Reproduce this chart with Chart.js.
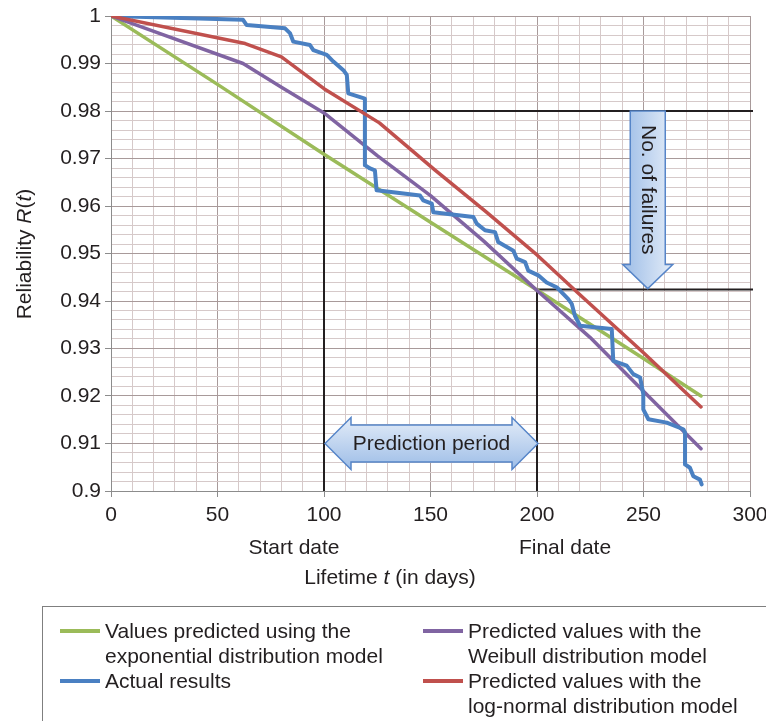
<!DOCTYPE html>
<html>
<head>
<meta charset="utf-8">
<script src="https://cdn.jsdelivr.net/npm/chart.js@4/dist/chart.umd.min.js"></script>
<style>
  html, body { margin: 0; padding: 0; background: #fff; }
  #wrap { position: relative; width: 766px; height: 721px; overflow: hidden; }
  canvas { display: block; position: absolute; left: 0; top: 0; }
  #legend { position: absolute; left: 42px; top: 606px; width: 760px; height: 140px;
            border: 1px solid #7f7f7f; box-sizing: border-box;
            font-family: "Liberation Sans", Arial, sans-serif; font-size: 21px; color: #231f20; }
  .item { position: absolute; line-height: 25px; }
  .item .sw { position: absolute; top: 11px; width: 40px; height: 4px; }
  .item .tx { position: absolute; left: 45px; white-space: nowrap; }
</style>
</head>
<body>
<div id="wrap">
  <canvas id="c" width="766" height="721"></canvas>
  <div id="legend"></div>
</div>
<script>
// ---------- data ----------
const expDays     = [0, 50, 100, 150, 200, 250, 277];
const expR        = [1, 0.9856, 0.9709, 0.9566, 0.9423, 0.9279, 0.9200];

const weibullDays = [0, 62, 80, 100, 125, 150, 175, 200, 225, 250, 277];
const weibullR    = [1, 0.9900, 0.9850, 0.9796, 0.9706, 0.9622, 0.9526, 0.9422, 0.9323, 0.9210, 0.9089];

const lognormDays = [0, 63, 80, 100, 126, 152, 176, 200, 219, 250, 277];
const lognormR    = [1, 0.9942, 0.9914, 0.9847, 0.9775, 0.9676, 0.9588, 0.9497, 0.9418, 0.9291, 0.9177];

const actualDays = [0, 62.0, 63.7, 81.7, 84.0, 85.6, 93.4, 95.0, 101.3, 104.4, 109.1, 110.7, 111.4, 119.2, 119.2,
  121.6, 123.9, 124.7, 145.1, 146.6, 150.6, 151.3, 170.1, 171.7, 175.6, 180.3, 181.8, 188.9, 190.5, 194.4,
  195.9, 200.6, 204.5, 209.2, 210.8, 214.7, 216.3, 217.8, 220.2, 235.1, 235.8, 242.1, 245.2, 248.4, 249.9,
  249.9, 252.3, 260.9, 268.7, 269.5, 269.5, 271.8, 273.4, 276.5, 277.3];
const actualR = [1.0, 0.9992, 0.9981, 0.9974, 0.9964, 0.9946, 0.9939, 0.9928, 0.9918, 0.9904, 0.9886, 0.9876, 0.9837, 0.9826, 0.9686,
  0.9679, 0.9675, 0.9633, 0.9622, 0.9612, 0.9605, 0.9587, 0.9577, 0.9563, 0.9549, 0.9545, 0.9524, 0.9506, 0.9489, 0.9482,
  0.9464, 0.9454, 0.9439, 0.9429, 0.9422, 0.9404, 0.9394, 0.9369, 0.9348, 0.9341, 0.9274, 0.9264, 0.9246, 0.9239, 0.9204,
  0.9172, 0.9151, 0.9144, 0.9130, 0.9123, 0.9056, 0.9049, 0.9031, 0.9024, 0.9014];

const xTickValues = [0, 50, 100, 150, 200, 250, 300];
const yTickValues = [0.9, 0.91, 0.92, 0.93, 0.94, 0.95, 0.96, 0.97, 0.98, 0.99, 1];

const startDay = 100, finalDay = 200;
const startR = 0.98, finalR = 0.9424;
const failArrowDay = 252;
const periodArrowR = 0.91;

const seriesNames = {
  exp: ['Values predicted using the', 'exponential distribution model'],
  weibull: ['Predicted values with the', 'Weibull distribution model'],
  actual: ['Actual results'],
  lognorm: ['Predicted values with the', 'log-normal distribution model']
};
const colors = { exp: '#9bbb59', weibull: '#8064a2', actual: '#4a80c2', lognorm: '#c0504d' };

// ---------- helpers ----------
const pts = (xs, ys) => xs.map((v, i) => ({ x: v, y: ys[i] }));
const FONT = '"Liberation Sans", Arial, sans-serif';
const MINOR = '#d6c9c9', MAJOR = '#a89a9a';
const isMajorX = v => xTickValues.includes(Math.round(v));
const isMajorY = v => yTickValues.some(t => Math.abs(t - v) < 1e-6);

Chart.defaults.font.family = FONT;

function hArrow(ctx, xl, xr, yc, hl, hh, sh) {
  ctx.beginPath();
  ctx.moveTo(xl, yc);
  ctx.lineTo(xl + hl, yc - hh);
  ctx.lineTo(xl + hl, yc - sh);
  ctx.lineTo(xr - hl, yc - sh);
  ctx.lineTo(xr - hl, yc - hh);
  ctx.lineTo(xr, yc);
  ctx.lineTo(xr - hl, yc + hh);
  ctx.lineTo(xr - hl, yc + sh);
  ctx.lineTo(xl + hl, yc + sh);
  ctx.lineTo(xl + hl, yc + hh);
  ctx.closePath();
}
function dArrow(ctx, xc, yt, yb, hl, hh, sh) {
  ctx.beginPath();
  ctx.moveTo(xc - sh, yt);
  ctx.lineTo(xc + sh, yt);
  ctx.lineTo(xc + sh, yb - hl);
  ctx.lineTo(xc + hh, yb - hl);
  ctx.lineTo(xc, yb);
  ctx.lineTo(xc - hh, yb - hl);
  ctx.lineTo(xc - sh, yb - hl);
  ctx.closePath();
}

const overlay = {
  id: 'overlay',
  beforeDatasetsDraw(chart) {
    const { ctx, chartArea: a, scales: { x, y } } = chart;
    ctx.save();
    ctx.strokeStyle = '#231f20';
    ctx.lineWidth = 2;
    const x1 = x.getPixelForValue(startDay), y1 = y.getPixelForValue(startR);
    const x2 = x.getPixelForValue(finalDay), y2 = y.getPixelForValue(finalR);
    ctx.beginPath();
    ctx.moveTo(x1, a.bottom); ctx.lineTo(x1, y1); ctx.lineTo(a.right + 3, y1);
    ctx.moveTo(x2, a.bottom); ctx.lineTo(x2, y2); ctx.lineTo(a.right + 3, y2);
    ctx.stroke();
    ctx.restore();
  },
  afterDatasetsDraw(chart) {
    const { ctx, scales: { x, y } } = chart;
    ctx.save();
    // Prediction period double arrow
    const xl = x.getPixelForValue(startDay) + 1, xr = x.getPixelForValue(finalDay) + 1;
    const yc = y.getPixelForValue(periodArrowR);
    let g = ctx.createLinearGradient(0, yc - 26, 0, yc + 26);
    g.addColorStop(0, '#e3ecf8'); g.addColorStop(1, '#9dbde7');
    hArrow(ctx, xl, xr, yc, 26, 26, 18.5);
    ctx.fillStyle = g; ctx.fill();
    ctx.strokeStyle = '#5685c8'; ctx.lineWidth = 1.5; ctx.stroke();
    ctx.fillStyle = '#231f20';
    ctx.font = '21px ' + FONT;
    ctx.textAlign = 'center'; ctx.textBaseline = 'middle';
    ctx.fillText('Prediction period', (xl + xr) / 2, yc + 1);

    // No. of failures down arrow
    const xc = x.getPixelForValue(failArrowDay);
    const yt = y.getPixelForValue(startR), yb = y.getPixelForValue(finalR) - 1;
    g = ctx.createLinearGradient(xc - 25, 0, xc + 25, 0);
    g.addColorStop(0, '#9dbde7'); g.addColorStop(1, '#e3ecf8');
    dArrow(ctx, xc, yt, yb, 24, 25, 17.5);
    ctx.fillStyle = g; ctx.fill();
    ctx.strokeStyle = '#5685c8'; ctx.lineWidth = 1.5; ctx.stroke();
    ctx.save();
    ctx.translate(xc, (yt + yb - 24) / 2 + 2);
    ctx.rotate(Math.PI / 2);
    ctx.fillStyle = '#231f20';
    ctx.font = '21px ' + FONT;
    ctx.textAlign = 'center'; ctx.textBaseline = 'middle';
    ctx.fillText('No. of failures', 0, 0);
    ctx.restore();
    ctx.restore();
  },
  afterDraw(chart) {
    const { ctx, scales: { x } } = chart;
    ctx.save();
    ctx.fillStyle = '#231f20';
    ctx.font = '21px ' + FONT;
    ctx.textBaseline = 'middle';
    ctx.textAlign = 'center';
    ctx.fillText('Start date', x.getPixelForValue(startDay) - 30, 548);
    ctx.fillText('Final date', x.getPixelForValue(finalDay) + 28, 548);

    // x title with italic t
    const p1 = 'Lifetime ', p2 = 't', p3 = ' (in days)';
    const fN = '21px ' + FONT, fI = 'italic 21px ' + FONT;
    ctx.font = fN; const w1 = ctx.measureText(p1).width, w3 = ctx.measureText(p3).width;
    ctx.font = fI; const w2 = ctx.measureText(p2).width;
    let sx = 390 - (w1 + w2 + w3) / 2;
    ctx.textAlign = 'left';
    ctx.font = fN; ctx.fillText(p1, sx, 578);
    ctx.font = fI; ctx.fillText(p2, sx + w1, 578);
    ctx.font = fN; ctx.fillText(p3, sx + w1 + w2, 578);

    // y title rotated
    ctx.save();
    ctx.translate(25, 254);
    ctx.rotate(-Math.PI / 2);
    const q1 = 'Reliability ', q2 = 'R', q3 = '(', q4 = 't', q5 = ')';
    ctx.font = fN; const v1 = ctx.measureText(q1).width, v3 = ctx.measureText(q3).width, v5 = ctx.measureText(q5).width;
    ctx.font = fI; const v2 = ctx.measureText(q2).width, v4 = ctx.measureText(q4).width;
    let s = -(v1 + v2 + v3 + v4 + v5) / 2;
    ctx.font = fN; ctx.fillText(q1, s, 0); s += v1;
    ctx.font = fI; ctx.fillText(q2, s, 0); s += v2;
    ctx.font = fN; ctx.fillText(q3, s, 0); s += v3;
    ctx.font = fI; ctx.fillText(q4, s, 0); s += v4;
    ctx.font = fN; ctx.fillText(q5, s, 0);
    ctx.restore();
    ctx.restore();
  }
};

const chart = new Chart(document.getElementById('c'), {
  type: 'line',
  data: {
    datasets: [
      { label: seriesNames.lognorm.join(' '), data: pts(lognormDays, lognormR), borderColor: colors.lognorm, borderWidth: 3.5, order: 0 },
      { label: seriesNames.actual.join(' '), data: pts(actualDays, actualR), borderColor: colors.actual, borderWidth: 4, order: 1 },
      { label: seriesNames.weibull.join(' '), data: pts(weibullDays, weibullR), borderColor: colors.weibull, borderWidth: 3.5, order: 2 },
      { label: seriesNames.exp.join(' '), data: pts(expDays, expR), borderColor: colors.exp, borderWidth: 3.5, order: 3 }
    ]
  },
  options: {
    responsive: false,
    animation: false,
    devicePixelRatio: 1,
    elements: { point: { radius: 0, hoverRadius: 0 }, line: { tension: 0, fill: false, borderJoinStyle: 'round', borderCapStyle: 'round' } },
    layout: { padding: { left: 0, top: 16, right: 16, bottom: 200 } },
    plugins: { legend: { display: false }, tooltip: { enabled: false } },
    scales: {
      x: {
        type: 'linear', min: 0, max: 300,
        ticks: {
          stepSize: 10, autoSkip: false, maxRotation: 0, padding: 6,
          color: '#231f20', font: { size: 21 },
          callback: v => isMajorX(v) ? String(v) : ''
        },
        grid: {
          color: c => (c.tick && isMajorX(c.tick.value)) ? MAJOR : MINOR,
          tickColor: c => (c.tick && isMajorX(c.tick.value)) ? '#8c8c8c' : 'rgba(0,0,0,0)',
          tickLength: 6, lineWidth: 1
        },
        border: { color: '#8c8c8c', width: 1 },
        afterFit: s => { s.height = 30; s.paddingLeft = 0; s.paddingRight = 0; }
      },
      y: {
        type: 'linear', min: 0.9, max: 1,
        ticks: {
          stepSize: 0.002, autoSkip: false, padding: 4,
          color: '#231f20', font: { size: 21 },
          callback: v => isMajorY(v) ? String(+v.toFixed(2)) : ''
        },
        grid: {
          color: c => (c.tick && isMajorY(c.tick.value)) ? MAJOR : MINOR,
          tickColor: c => (c.tick && isMajorY(c.tick.value)) ? '#8c8c8c' : 'rgba(0,0,0,0)',
          tickLength: 6, lineWidth: 1
        },
        border: { color: '#8c8c8c', width: 1 },
        afterFit: s => { s.width = 111; s.paddingTop = 0; s.paddingBottom = 0; }
      }
    }
  },
  plugins: [overlay]
});

// ---------- HTML legend ----------
const legend = document.getElementById('legend');
const items = [
  { key: 'exp', left: 17, top: 11 },
  { key: 'weibull', left: 380, top: 11 },
  { key: 'actual', left: 17, top: 61 },
  { key: 'lognorm', left: 380, top: 61 }
];
items.forEach(it => {
  const d = document.createElement('div');
  d.className = 'item';
  d.style.left = it.left + 'px'; d.style.top = it.top + 'px';
  const sw = document.createElement('div');
  sw.className = 'sw'; sw.style.background = colors[it.key];
  const tx = document.createElement('div');
  tx.className = 'tx';
  tx.innerHTML = seriesNames[it.key].join('<br>');
  d.appendChild(sw); d.appendChild(tx);
  legend.appendChild(d);
});
</script>
</body>
</html>
